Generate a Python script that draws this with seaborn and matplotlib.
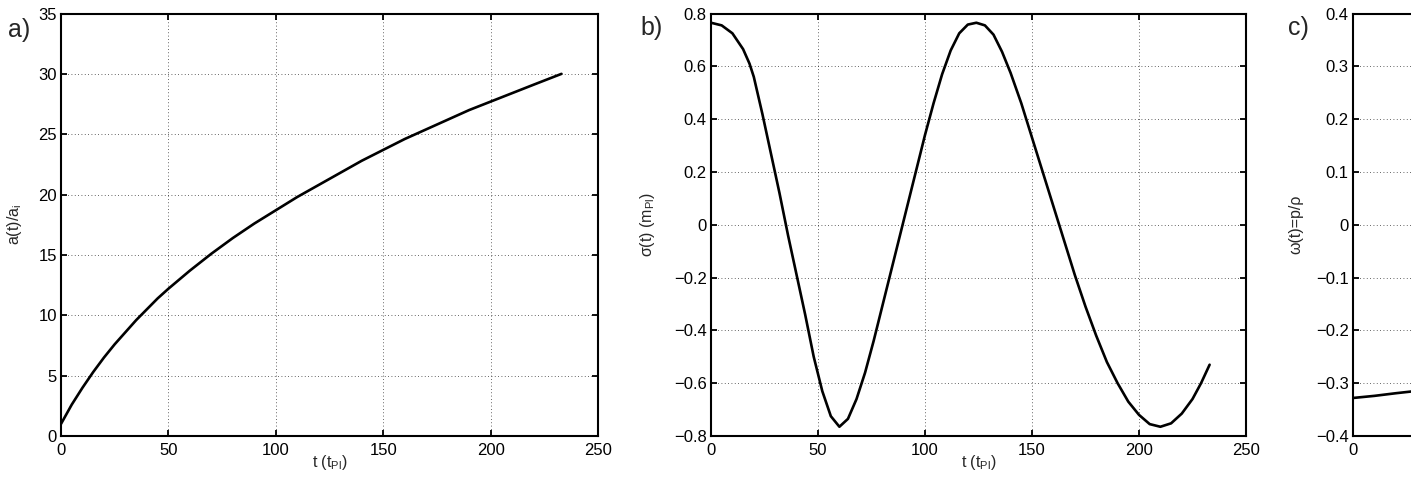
import numpy as np
import pandas as pd
import matplotlib
matplotlib.use("Agg")
import matplotlib.pyplot as plt
import seaborn as sns
from matplotlib.ticker import FuncFormatter

# ---------------- data ----------------
t_a = [0, 5, 10, 15, 20, 25, 30, 35, 40, 45, 50, 60, 70, 80, 90, 100, 110, 120,
       130, 140, 150, 160, 170, 180, 190, 200, 210, 220, 233]
a_vals = [1.0, 2.6, 4.0, 5.3, 6.5, 7.6, 8.6, 9.6, 10.5, 11.4, 12.2, 13.7, 15.1,
          16.4, 17.6, 18.7, 19.8, 20.8, 21.8, 22.8, 23.7, 24.6, 25.4, 26.2,
          27.0, 27.7, 28.4, 29.1, 30.0]

t_b = [0, 5, 10, 15, 18, 20, 24, 28, 32, 36, 40, 44, 48, 52, 56, 60, 64, 68, 72,
       76, 80, 84, 88, 92, 96, 100, 104, 108, 112, 116, 120, 124, 128, 132, 136,
       140, 145, 150, 155, 160, 165, 170, 175, 180, 185, 190, 195, 200, 205,
       210, 215, 220, 225, 229, 233]
sigma_vals = [0.765, 0.755, 0.725, 0.665, 0.61, 0.56, 0.42, 0.27, 0.12, -0.04,
              -0.19, -0.34, -0.50, -0.63, -0.725, -0.765, -0.735, -0.66, -0.56,
              -0.44, -0.31, -0.18, -0.05, 0.08, 0.21, 0.34, 0.46, 0.57, 0.66,
              0.725, 0.758, 0.765, 0.755, 0.72, 0.655, 0.575, 0.46, 0.33, 0.20,
              0.07, -0.06, -0.19, -0.31, -0.42, -0.52, -0.60, -0.67, -0.72,
              -0.755, -0.765, -0.752, -0.715, -0.66, -0.60, -0.53]

t_c = [0, 10, 20, 30, 40]
omega_vals = [-0.328, -0.324, -0.319, -0.3145, -0.309]

x_ticks = [0, 50, 100, 150, 200, 250]
a_ticks = [0, 5, 10, 15, 20, 25, 30, 35]
b_ticks = [-0.8, -0.6, -0.4, -0.2, 0, 0.2, 0.4, 0.6, 0.8]
c_ticks = [-0.4, -0.3, -0.2, -0.1, 0, 0.1, 0.2, 0.3, 0.4]

# ---------------- style ----------------
sns.set_style("ticks")
plt.rcParams['font.family'] = ['Liberation Sans', 'DejaVu Sans']
plt.rcParams['mathtext.fontset'] = 'custom'
plt.rcParams['mathtext.rm'] = 'Liberation Sans'
plt.rcParams['mathtext.it'] = 'Liberation Sans:italic'
plt.rcParams['axes.unicode_minus'] = True

W, H = 1411, 491
fig = plt.figure(figsize=(W / 100, H / 100), dpi=100)

def px_axes(left, right, top, bottom):
    return fig.add_axes([left / W, 1 - bottom / H, (right - left) / W, (bottom - top) / H])

ax_a = px_axes(61, 598, 13.5, 436)
ax_b = px_axes(711, 1246, 13.5, 436)
ax_c = px_axes(1353, 1889, 13.5, 436)

fmt = FuncFormatter(lambda v, p: ('%g' % round(v, 3)).replace('-', '\u2212'))

def style(ax, yticks, ylim, ylabel, ylab_x, xlabel=True):
    ax.set_xlim(0, 250)
    ax.set_ylim(*ylim)
    ax.set_xticks(x_ticks)
    ax.set_yticks(yticks)
    ax.xaxis.set_major_formatter(fmt)
    ax.yaxis.set_major_formatter(fmt)
    ax.grid(True, color='black', linestyle=(0, (1, 3)), linewidth=0.6, alpha=0.8)
    ax.tick_params(direction='in', length=4, width=1.3, top=True, right=True,
                   labelsize=12, colors='black')
    ax.tick_params(axis='x', pad=5)
    ax.tick_params(axis='y', pad=3)
    for s in ax.spines.values():
        s.set_linewidth(1.5)
        s.set_color('black')
    if xlabel:
        ax.set_xlabel(r't (t$_{\mathrm{Pl}}$)', fontsize=11.5)
        ax.xaxis.set_label_coords(0.5, -0.040)
    else:
        ax.set_xlabel('')
    ax.set_ylabel(ylabel, fontsize=11.5)
    ax.yaxis.set_label_coords(ylab_x, 0.5)

df_a = pd.DataFrame({'t': t_a, 'v': a_vals})
df_b = pd.DataFrame({'t': t_b, 'v': sigma_vals})
df_c = pd.DataFrame({'t': t_c, 'v': omega_vals})

sns.lineplot(data=df_a, x='t', y='v', ax=ax_a, color='black', linewidth=1.9)
sns.lineplot(data=df_b, x='t', y='v', ax=ax_b, color='black', linewidth=1.9)
sns.lineplot(data=df_c, x='t', y='v', ax=ax_c, color='black', linewidth=1.9)

style(ax_a, a_ticks, (0, 35), r'a(t)/a$_{\mathrm{i}}$', -0.069)
style(ax_b, b_ticks, (-0.8, 0.8), r'σ(t) (m$_{\mathrm{Pl}}$)', -0.101)
style(ax_c, c_ticks, (-0.4, 0.4), 'ω(t)=p/ρ', -0.093, xlabel=False)
# only the first x tick label of panel c lies inside the visible figure
ax_c.set_xticklabels(['0'] + [''] * (len(x_ticks) - 1))

fig.text(8 / W, 1 - 30 / H, 'a)', fontsize=18, ha='left', va='center')
fig.text(640 / W, 1 - 28 / H, 'b)', fontsize=18, ha='left', va='center')
fig.text(1288 / W, 1 - 28 / H, 'c)', fontsize=18, ha='left', va='center')

fig.savefig('out.png', dpi=100)
